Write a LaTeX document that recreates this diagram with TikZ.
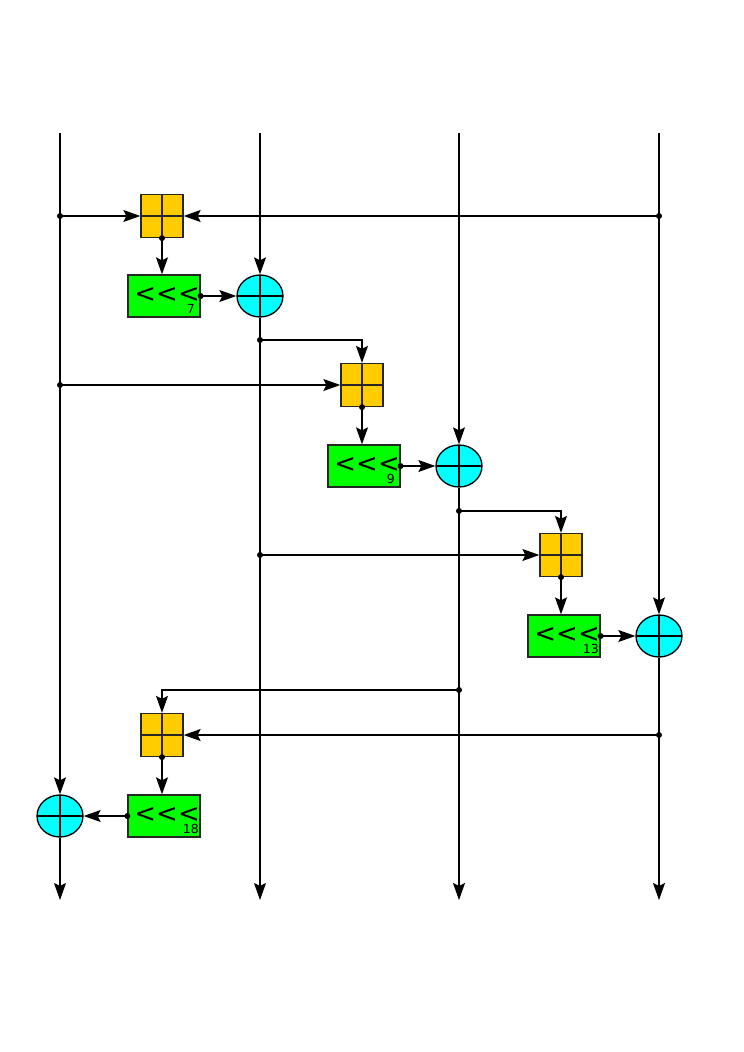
\documentclass[tikz,border=0pt]{standalone}
\usepackage{fontspec}
\setmainfont{DejaVu Sans}[Ligatures=TeXOff]
\usetikzlibrary{arrows.meta,shapes.geometric}
\definecolor{addc}{HTML}{FFCC00}
\definecolor{rotc}{HTML}{00FF00}
\definecolor{xorc}{HTML}{00FFFF}
\newcommand{\rotlabel}[1]{<\kern0pt<\kern0pt<\llap{\raisebox{-11.5pt}{\makebox[0pt]{\fontsize{12.5}{13}\selectfont #1}}\hspace{9pt}}}
\begin{document}
\begin{tikzpicture}[x=1pt,y=-1pt,
  arr/.style={line width=1.3pt,-{Stealth[length=17pt,width=12pt,inset=3pt]}},
  crossed/.style={path picture={\draw[line width=1.3pt]
      (path picture bounding box.north) -- (path picture bounding box.south)
      (path picture bounding box.west) -- (path picture bounding box.east);}},
  adder/.style={rectangle,draw=black!85,fill=addc,line width=1.3pt,minimum width=42pt,minimum height=43pt,inner sep=0pt,crossed},
  xorop/.style={ellipse,draw=black,fill=xorc,line width=1.3pt,minimum width=46pt,minimum height=42pt,inner sep=0pt,crossed},
  rot/.style={rectangle,draw=black!85,fill=rotc,line width=1.3pt,minimum width=72pt,minimum height=42pt,inner sep=0pt},
  rottxt/.style={inner sep=0pt,anchor=base east,font=\fontsize{26}{26}\selectfont},
  dotc/.style={fill=black}
]
\useasboundingbox (0,0) rectangle (744,1052);
% column ends
\coordinate (t1) at (60,133); \coordinate (t2) at (260,133);
\coordinate (t3) at (459,133); \coordinate (t4) at (659,133);
\coordinate (b1) at (60,900); \coordinate (b2) at (260,900);
\coordinate (b3) at (459,900); \coordinate (b4) at (659,900);
% nodes
\node[adder] (a1) at (162,216) {};
\node[rot] (r1) at (164,296) {};
\node[xorop] (x1) at (260,296) {};
\node[adder] (a2) at (362,385) {};
\node[rot] (r2) at (364,466) {};
\node[xorop] (x2) at (459,466) {};
\node[adder] (a3) at (561,555) {};
\node[rot] (r3) at (564,636) {};
\node[xorop] (x3) at (659,636) {};
\node[adder] (a4) at (162,735) {};
\node[rot] (r4) at (164,816) {};
\node[xorop] (x4) at (60,816) {};
% rotation labels
\node[rottxt] (r1t) at (200,302) {\rotlabel{7}};
\node[rottxt] (r2t) at (400,472) {\rotlabel{9}};
\node[rottxt] (r3t) at (600,642) {\rotlabel{13}};
\node[rottxt] (r4t) at (200,822) {\rotlabel{18}};
% junction coordinates
\coordinate (j1a) at (60,216); \coordinate (j1b) at (659,216);
\coordinate (j2) at (260,340); \coordinate (k2) at (362,340);
\coordinate (j2a) at (60,385);
\coordinate (j3) at (459,511); \coordinate (k3) at (561,511);
\coordinate (j3a) at (260,555);
\coordinate (j4) at (459,690); \coordinate (k4) at (162,690);
\coordinate (j4a) at (659,735);
% column lines
\draw[arr] (t1) -- (x4.north);
\draw[arr] (x4.south) -- (b1);
\draw[arr] (t2) -- (x1.north);
\draw[arr] (x1.south) -- (b2);
\draw[arr] (t3) -- (x2.north);
\draw[arr] (x2.south) -- (b3);
\draw[arr] (t4) -- (x3.north);
\draw[arr] (x3.south) -- (b4);
% stage 1
\draw[arr] (j1a) -- (a1.west);
\draw[arr] (j1b) -- (a1.east);
\draw[arr] (a1.south) -- (a1.south |- r1.north);
\draw[arr] (r1.east) -- (x1.west);
% stage 2
\draw[arr] (j2) -- (k2) -- (a2.north);
\draw[arr] (j2a) -- (a2.west);
\draw[arr] (a2.south) -- (a2.south |- r2.north);
\draw[arr] (r2.east) -- (x2.west);
% stage 3
\draw[arr] (j3) -- (k3) -- (a3.north);
\draw[arr] (j3a) -- (a3.west);
\draw[arr] (a3.south) -- (a3.south |- r3.north);
\draw[arr] (r3.east) -- (x3.west);
% stage 4
\draw[arr] (j4) -- (k4) -- (a4.north);
\draw[arr] (j4a) -- (a4.east);
\draw[arr] (a4.south) -- (a4.south |- r4.north);
\draw[arr] (r4.west) -- (x4.east);
% dots
\foreach \p in {j1a,j1b,j2,j2a,j3,j3a,j4,j4a,a1.south,a2.south,a3.south,a4.south,r1.east,r2.east,r3.east,r4.west}
  \fill[dotc] (\p) circle (3pt);
\end{tikzpicture}
\end{document}
